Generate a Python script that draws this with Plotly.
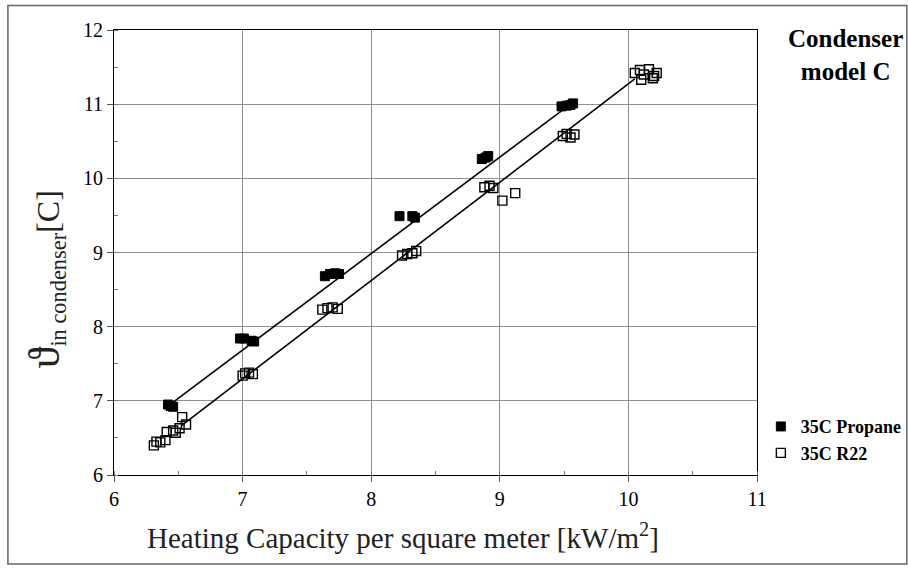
import plotly.graph_objects as go

# ---- data ----
propane_x = [6.42, 6.44, 6.46, 6.98, 7.01, 7.07, 7.09, 7.64, 7.68, 7.72, 7.75,
             8.22, 8.32, 8.34, 8.86, 8.89, 8.91, 9.48, 9.52, 9.55, 9.57]
propane_y = [6.95, 6.93, 6.92, 7.84, 7.84, 7.81, 7.80, 8.68, 8.71, 8.72, 8.71,
             9.49, 9.49, 9.47, 10.26, 10.28, 10.30, 10.97, 10.98, 10.99, 11.01]

r22_x = [6.31, 6.33, 6.36, 6.40, 6.41, 6.46, 6.48, 6.51, 6.53, 6.56,
         7.00, 7.02, 7.05, 7.08, 7.62, 7.66, 7.70, 7.74,
         8.24, 8.28, 8.32, 8.35, 8.88, 8.92, 8.95, 9.02, 9.12,
         9.49, 9.52, 9.55, 9.58, 10.05, 10.09, 10.12, 10.16, 10.19, 10.22, 10.10, 10.20]
r22_y = [6.40, 6.45, 6.44, 6.47, 6.58, 6.60, 6.57, 6.63, 6.78, 6.68,
         7.34, 7.37, 7.38, 7.36, 8.23, 8.25, 8.26, 8.24,
         8.96, 8.98, 8.99, 9.02, 9.88, 9.90, 9.87, 9.70, 9.80,
         10.57, 10.60, 10.55, 10.59, 11.42, 11.46, 11.40, 11.47, 11.35, 11.42, 11.33, 11.38]

# trend lines (endpoints)
propane_fit_x = [6.45, 9.55]
propane_fit_y = [6.97, 11.00]
r22_fit_x = [6.52, 10.05]
r22_fit_y = [6.66, 11.34]

x_ticks = [6, 7, 8, 9, 10, 11]
y_ticks = [6, 7, 8, 9, 10, 11, 12]

SERIF = "Liberation Serif, Times New Roman, serif"

fig = go.Figure()
fig.add_trace(go.Scatter(x=propane_fit_x, y=propane_fit_y, mode="lines",
                         line=dict(color="black", width=1.6), showlegend=False,
                         hoverinfo="skip"))
fig.add_trace(go.Scatter(x=r22_fit_x, y=r22_fit_y, mode="lines",
                         line=dict(color="black", width=1.6), showlegend=False,
                         hoverinfo="skip"))
fig.add_trace(go.Scatter(x=propane_x, y=propane_y, mode="markers", name="35C Propane",
                         marker=dict(symbol="square", size=9, color="black",
                                     line=dict(color="black", width=1))))
fig.add_trace(go.Scatter(x=r22_x, y=r22_y, mode="markers", name="35C R22",
                         marker=dict(symbol="square-open", size=9, color="black",
                                     line=dict(color="black", width=1.4))))

axis_common = dict(
    showline=True, linecolor="black", linewidth=1, mirror=True,
    showgrid=True, gridcolor="#909090", gridwidth=1,
    ticks="outside", ticklen=6, tickcolor="#555555",
    tickfont=dict(family=SERIF, size=20, color="black"),
    zeroline=False, automargin=False,
    minor=dict(ticks="inside", dtick=0.5, ticklen=4, tickcolor="#777777", showgrid=False),
)

fig.update_xaxes(range=[6, 11], tickvals=x_ticks, **axis_common)
fig.update_yaxes(range=[6, 12], tickvals=y_ticks, **axis_common)

# axis titles
fig.add_annotation(text="Heating Capacity per square meter [kW/m<sup>2</sup>]",
                   xref="paper", yref="paper", x=0.449, y=-0.138,
                   xanchor="center", yanchor="middle", showarrow=False,
                   font=dict(family=SERIF, size=29, color="#222222"))
fig.add_annotation(text="<span style='font-size:44px'>ϑ</span><sub>in condenser</sub>[C]",
                   xref="paper", yref="paper", x=-0.107, y=0.44, textangle=-90,
                   xanchor="center", yanchor="middle", showarrow=False,
                   font=dict(family=SERIF, size=32, color="#222222"))

fig.add_annotation(text="<b>Condenser<br>model C</b>", xref="paper", yref="paper",
                   x=1.137, y=1.015, xanchor="center", yanchor="top", showarrow=False,
                   align="center", font=dict(family=SERIF, size=25, color="black"))

# outer frame of the picture
fig.add_shape(type="rect", xref="paper", yref="paper",
              x0=-0.165, x1=1.233, y0=-0.2, y1=1.055,
              line=dict(color="#666666", width=1.5))

fig.update_layout(
    width=908, height=579,
    margin=dict(l=114, r=151, t=30, b=104, autoexpand=False),
    paper_bgcolor="white", plot_bgcolor="white",
    legend=dict(x=1.006, y=0.15, xanchor="left", yanchor="top",
                font=dict(family=SERIF, size=18, color="black", weight="bold"),
                bgcolor="rgba(0,0,0,0)", itemwidth=30, tracegroupgap=0),
    showlegend=True,
)

fig.write_html("out.html", config={"displayModeBar": False},
               post_script="document.body.style.margin='0';")
